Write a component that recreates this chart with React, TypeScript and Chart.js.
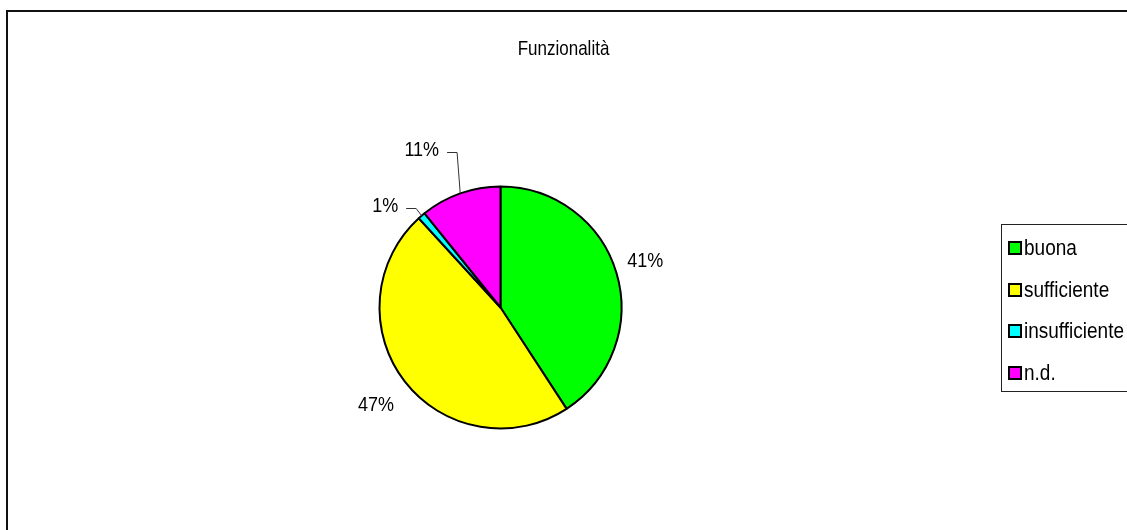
import { useEffect, useRef } from "react";
import { Chart, registerables } from "chart.js";

Chart.register(...registerables);

const title = "Funzionalità";
const categories = ["buona", "sufficiente", "insufficiente", "n.d."];
const values = [40.8, 47.4, 1.0, 10.8];
const colors = ["#00FF00", "#FFFF00", "#00FFFF", "#FF00FF"];
const labelGaps = [14, 23, 22, 45];
const labelAngleShift = [-2.4, -2, -7, -6];
const leaderLines = [false, false, true, true];
const FONT = "'Liberation Sans', Arial, sans-serif";
const V_STRETCH = 1.15;

function drawText(ctx: CanvasRenderingContext2D, text: string, x: number, y: number) {
  ctx.save();
  ctx.translate(x, y);
  ctx.scale(1, V_STRETCH);
  ctx.fillText(text, 0, 0);
  ctx.restore();
}

const overlay = {
  id: "overlay",
  afterDraw(chart: any) {
    const ctx = chart.ctx as CanvasRenderingContext2D;
    ctx.save();
    // outer frame (cropped at right/bottom)
    ctx.strokeStyle = "#111";
    ctx.lineWidth = 2;
    ctx.beginPath();
    ctx.moveTo(7, 560);
    ctx.lineTo(7, 11);
    ctx.lineTo(1160, 11);
    ctx.stroke();

    // title
    ctx.fillStyle = "#000";
    ctx.font = `17px ${FONT}`;
    ctx.textAlign = "center";
    ctx.textBaseline = "middle";
    drawText(ctx, title, 563.5, 50);

    // data labels
    const meta = chart.getDatasetMeta(0);
    const total = values.reduce((a, b) => a + b, 0);
    ctx.font = `18px ${FONT}`;
    meta.data.forEach((arc: any, i: number) => {
      const { x, y, startAngle, endAngle, outerRadius } = arc.getProps(
        ["x", "y", "startAngle", "endAngle", "outerRadius"],
        true
      );
      const mid = (startAngle + endAngle) / 2;
      const a = mid + (labelAngleShift[i] * Math.PI) / 180;
      const dx = Math.cos(a);
      const dy = Math.sin(a);
      const text = Math.round((values[i] / total) * 100) + "%";
      const w = ctx.measureText(text).width;
      const h = 16;
      const d = outerRadius + labelGaps[i];
      const cx = x + dx * d + (dx * w) / 2;
      const cy = y + dy * d + (dy * h) / 2;
      ctx.fillStyle = "#000";
      ctx.textAlign = "center";
      ctx.textBaseline = "middle";
      drawText(ctx, text, cx, cy);
      if (leaderLines[i]) {
        const ex = x + Math.cos(mid) * outerRadius;
        const ey = y + Math.sin(mid) * outerRadius;
        const lx = cx + w / 2 + 8;
        const ly = Math.round(cy + 2) + 0.5;
        ctx.strokeStyle = "#333";
        ctx.lineWidth = 1;
        ctx.beginPath();
        ctx.moveTo(lx, ly);
        ctx.lineTo(lx + 10, ly);
        ctx.lineTo(ex, ey);
        ctx.stroke();
      }
    });

    // legend
    ctx.strokeStyle = "#222";
    ctx.lineWidth = 1;
    ctx.strokeRect(1001.5, 224.5, 200, 167);
    ctx.font = `19px ${FONT}`;
    ctx.textAlign = "left";
    ctx.textBaseline = "middle";
    categories.forEach((c, i) => {
      const yy = Math.round(248 + i * 41.5);
      ctx.fillStyle = colors[i];
      ctx.fillRect(1009, yy - 6, 12, 12);
      ctx.strokeStyle = "#000";
      ctx.lineWidth = 2;
      ctx.strokeRect(1009, yy - 6, 12, 12);
      ctx.fillStyle = "#000";
      drawText(ctx, c, 1024, yy + 1);
    });
    ctx.restore();
  },
};

export default function App() {
  const ref = useRef<HTMLCanvasElement>(null);
  useEffect(() => {
    if (!ref.current) return;
    const chart = new Chart(ref.current, {
      type: "pie",
      data: {
        labels: categories,
        datasets: [
          {
            data: values,
            backgroundColor: colors,
            borderColor: "#000",
            borderWidth: 2,
            radius: 121,
          } as any,
        ],
      },
      options: {
        responsive: false,
        animation: false,
        devicePixelRatio: 1,
        layout: { padding: { left: 0, right: 126, top: 85, bottom: 0 } },
        plugins: {
          legend: { display: false },
          title: { display: false },
          tooltip: { enabled: false },
        },
      },
      plugins: [overlay],
    });
    return () => chart.destroy();
  }, []);
  return (
    <div style={{ position: "fixed", left: 0, top: 0, width: 1127, height: 530, background: "#fff" }}>
      <canvas ref={ref} width={1127} height={530} />
    </div>
  );
}
